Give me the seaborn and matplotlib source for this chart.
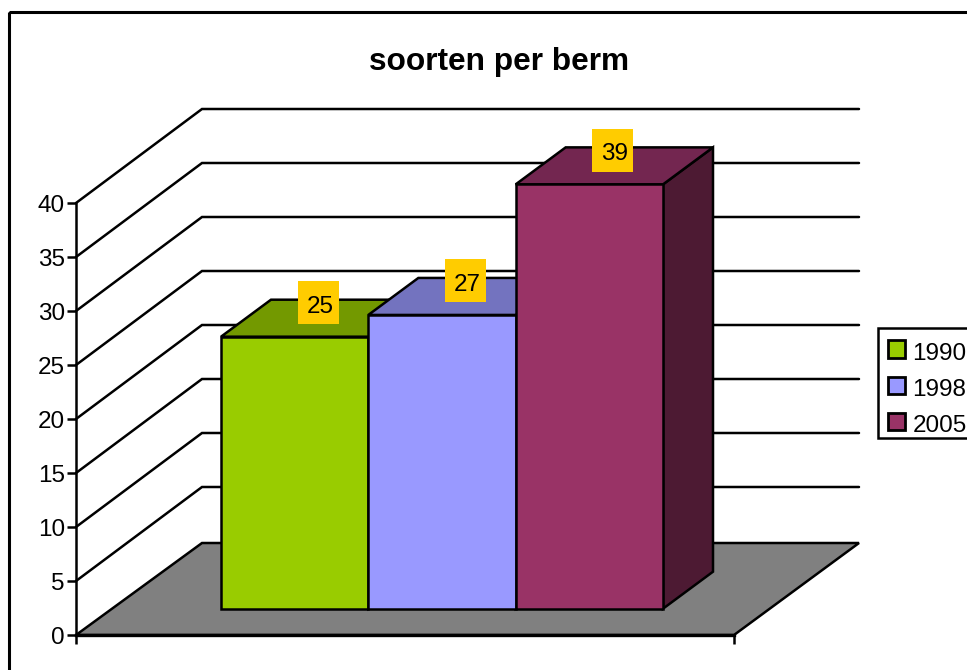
import matplotlib
matplotlib.use('Agg')
import matplotlib.pyplot as plt
from matplotlib.patches import Polygon, Rectangle
import pandas as pd
import seaborn as sns

jaren = ['1990', '1998', '2005']
soorten = [25, 27, 39]
y_ticks = [0, 5, 10, 15, 20, 25, 30, 35, 40]
titel = 'soorten per berm'

kleur_voor = ['#99CC00', '#9999FF', '#993366']
kleur_top = ['#739900', '#7373BF', '#732650']
kleur_zij = ['#4D6600', '#4D4D80', '#4D1A33']

W, H = 967, 670
LW = 1.8
FS = 17.5

sns.set_style('white')
plt.rcParams['font.family'] = ['Liberation Sans', 'DejaVu Sans']

df = pd.DataFrame({'jaar': jaren, 'soorten': soorten})
fig = plt.figure(figsize=(W / 100, H / 100), dpi=100)


def box(left, top, right, bottom):
    return [left / W, 1 - bottom / H, (right - left) / W, (bottom - top) / H]


# achtergrond in pixels: rand, vloer, rasterlijnen
bg = fig.add_axes([0, 0, 1, 1], zorder=0)
bg.set_xlim(0, W)
bg.set_ylim(H, 0)
bg.axis('off')
bg.add_patch(Rectangle((8.5, 12), W + 20, H + 20, fill=False, ec='black', lw=2.2))
bg.add_patch(Rectangle((877.5, 328), 120, 110, fc='white', ec='black', lw=LW))

# echte y-as aan de voorkant
ax = fig.add_axes(box(76, 203, 734, 635), zorder=1)
ax.patch.set_alpha(0)
ax.set_xlim(0, 1)
ax.set_ylim(0, 40)
ax.set_yticks(y_ticks)
ax.set_xticks([0, 1])
ax.set_xticklabels([])
ax.tick_params(axis='both', which='major', left=True, bottom=True, length=6.5, width=LW,
               color='black', labelsize=FS, labelcolor='black', pad=1.5)
sns.despine(ax=ax)
ax.spines['left'].set_linewidth(LW)
ax.spines['left'].set_color('black')
ax.spines['bottom'].set_linewidth(2.4)
ax.spines['bottom'].set_color('black')


def naar_px(as_, x, y):
    return bg.transData.inverted().transform(as_.transData.transform((x, y)))


x0, y0 = naar_px(ax, 0, 0)
x1, _ = naar_px(ax, 1, 0)
bg.add_patch(Polygon([(x0, y0), (x1, y0), (x1 + 125, y0 - 92), (x0 + 126, y0 - 92)],
                     closed=True, fc='#808080', ec='black', lw=LW, zorder=2))
for t in y_ticks[1:]:
    _, py = naar_px(ax, 0, t)
    bg.plot([x0, x0 + 126, x1 + 125], [py, py - 94, py - 94], color='black', lw=LW,
            solid_joinstyle='miter', zorder=1)

# balken
bar_ax = fig.add_axes(box(221, 608.7 - 40 * 10.88, 663, 608.7), zorder=2)
sns.barplot(data=df, x='jaar', y='soorten', hue='jaar', palette=kleur_voor, width=1,
            edgecolor='black', linewidth=LW, saturation=1, ax=bar_ax, legend=True)
bar_ax.set_xlim(-0.5, 2.5)
bar_ax.set_ylim(0, 40)
bar_ax.patch.set_alpha(0)
bar_ax.axis('off')

# diepte van de balken, bovenvlak en zijvlak
dx, dy = 50, -37
balken = [b for c in bar_ax.containers for b in c if b.get_height() > 0]
for i, b in enumerate(balken):
    b.set_clip_on(False)
    lx, ty = naar_px(bar_ax, b.get_x(), b.get_height())
    rx, by = naar_px(bar_ax, b.get_x() + b.get_width(), 0)
    bg.add_patch(Polygon([(rx, ty), (rx + dx, ty + dy), (rx + dx, by + dy), (rx, by)],
                         closed=True, fc=kleur_zij[i], ec='black', lw=LW, zorder=5 + i))
    bg.add_patch(Polygon([(lx, ty), (rx, ty), (rx + dx, ty + dy), (lx + dx, ty + dy)],
                         closed=True, fc=kleur_top[i], ec='black', lw=LW, zorder=5 + i))
    # waardelabel op geel vlak
    mx = (lx + rx) / 2
    bar_ax.add_patch(Rectangle((mx + 3, ty - 55.5), 41, 43, transform=bg.transData,
                               fc='#FFCC00', ec='none', clip_on=False, zorder=6))
    bar_ax.text(mx + 25.5, ty - 30, str(soorten[i]), transform=bg.transData, fontsize=FS,
                ha='center', va='center', color='black', zorder=7)

# legenda loopt net buiten de figuur, net als het origineel
handles, labels = bar_ax.get_legend_handles_labels()
bar_ax.legend(handles, labels, loc='upper left', bbox_to_anchor=(888 / W, 1 - 340.5 / H),
              bbox_transform=fig.transFigure, frameon=False, fontsize=FS,
              labelcolor='black', handlelength=0.7, handleheight=0.7,
              handletextpad=0.3, labelspacing=0.58, borderpad=0, borderaxespad=0,
              title=None)
for h in bar_ax.get_legend().get_patches():
    h.set_linewidth(2.0)
for tekst in bar_ax.get_legend().get_texts():
    tekst.set_position((0, -2))

fig.text(499 / W, 1 - 62 / H, titel, fontsize=22.8, fontweight='bold', ha='center',
         va='center', color='black')

fig.savefig('out.png', dpi=100)
